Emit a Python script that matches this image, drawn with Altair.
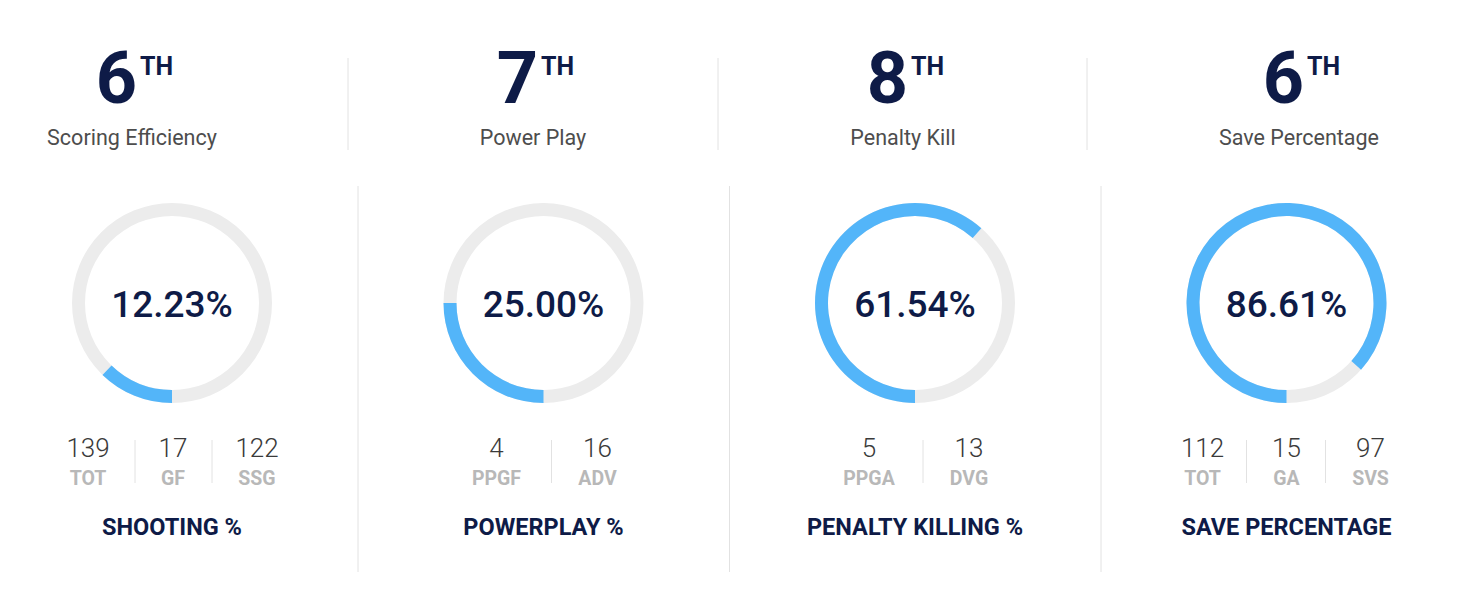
import math
import altair as alt
import pandas as pd

# ---------------- data ----------------
ranks = [6, 7, 8, 6]
rank_suffix = ["TH", "TH", "TH", "TH"]
rank_labels = ["Scoring Efficiency", "Power Play", "Penalty Kill", "Save Percentage"]
pct_values = [12.23, 25.00, 61.54, 86.61]
stat_values = [[139, 17, 122], [4, 16], [5, 13], [112, 15, 97]]
stat_labels = [["TOT", "GF", "SSG"], ["PPGF", "ADV"], ["PPGA", "DVG"], ["TOT", "GA", "SVS"]]
titles = ["SHOOTING %", "POWERPLAY %", "PENALTY KILLING %", "SAVE PERCENTAGE"]

# ---------------- layout (pixels inside the chart) ----------------
W, H = 1466, 594
top_centers = [124, 525, 895, 1291]
top_seps = [340, 710, 1079]
bot_centers = [164 + 371.5 * i for i in range(4)]
stat_offsets = [[-84, 1, 85], [-47, 54], [-46, 54], [-84, 0, 84]]
stat_sep_offsets = [[-37, 40], [8], [8], [-40, 39]]
DONUT_Y = 295

NAVY = "#0e1b47"
BLUE = "#53b5f9"
RING = "#ececec"
SEP = "#e2e2e2"
FONT = "Roboto"

top = pd.DataFrame({
    "x": top_centers,
    "rank": [str(r) for r in ranks],
    "suffix": rank_suffix,
    "label": rank_labels,
})
top["xr"] = top["x"] + 5
top["xs"] = top["x"] + 8

topsep = pd.DataFrame({"x": top_seps, "y1": [50] * 3, "y2": [142] * 3})
botsep = pd.DataFrame({"x": [c + 186 for c in bot_centers[:3]], "y1": [178] * 3, "y2": [564] * 3})

donut = pd.DataFrame({
    "x": bot_centers,
    "pct": pct_values,
    "title": titles,
})
donut["y"] = DONUT_Y
donut["t0"] = math.pi
donut["t1"] = math.pi + 2 * math.pi * donut["pct"] / 100.0
donut["full0"] = 0.0
donut["full1"] = 2 * math.pi
donut["txt"] = donut["pct"].map(lambda v: f"{v:.2f}%")

rows = []
for i, (vals, labs) in enumerate(zip(stat_values, stat_labels)):
    for j, (v, l) in enumerate(zip(vals, labs)):
        rows.append({"x": bot_centers[i] + stat_offsets[i][j], "val": str(v), "lab": l})
stats = pd.DataFrame(rows)

srows = []
for i, offs in enumerate(stat_sep_offsets):
    for o in offs:
        srows.append({"x": bot_centers[i] + o, "y1": 432, "y2": 475})
statsep = pd.DataFrame(srows)

X = lambda f: alt.X(f, type="quantitative", scale=None, axis=None)
Y = lambda f: alt.Y(f, type="quantitative", scale=None, axis=None)

def rules(df):
    return alt.Chart(df).mark_rule(color=SEP, strokeWidth=1).encode(
        x=X("x"), y=Y("y1"), y2="y2"
    )

rank_txt = alt.Chart(top).mark_text(
    font=FONT, fontSize=72, fontWeight="bold", color=NAVY, align="right", baseline="alphabetic"
).encode(x=X("xr"), y=alt.value(95), text="rank:N")

suffix_txt = alt.Chart(top).mark_text(
    font=FONT, fontSize=25, fontWeight="bold", color=NAVY, align="left", baseline="alphabetic"
).encode(x=X("xs"), y=alt.value(67), text="suffix:N")

label_txt = alt.Chart(top).mark_text(
    font=FONT, fontSize=21.5, color="#4d4d4d", align="center", baseline="alphabetic"
).encode(x=X("x"), y=alt.value(137), text="label:N")

ring = alt.Chart(donut).mark_arc(radius=100, radius2=87, color=RING).encode(
    x=X("x"), y=Y("y"),
    theta=alt.Theta("full0:Q", scale=None, stack=None),
    theta2="full1:Q",
)

prog = alt.Chart(donut).mark_arc(radius=100, radius2=87, color=BLUE).encode(
    x=X("x"), y=Y("y"),
    theta=alt.Theta("t0:Q", scale=None, stack=None),
    theta2="t1:Q",
)

pct_txt = alt.Chart(donut).mark_text(
    font=FONT, fontSize=37, fontWeight=500, color=NAVY, align="center", baseline="alphabetic"
).encode(x=X("x"), y=alt.value(309), text="txt:N")

val_txt = alt.Chart(stats).mark_text(
    font=FONT, fontSize=26, fontWeight=300, color="#3a3a3a", align="center", baseline="alphabetic"
).encode(x=X("x"), y=alt.value(449), text="val:N")

lab_txt = alt.Chart(stats).mark_text(
    font=FONT, fontSize=19.5, fontWeight="bold", color="#b8b8b8", align="center", baseline="alphabetic"
).encode(x=X("x"), y=alt.value(477), text="lab:N")

title_txt = alt.Chart(donut).mark_text(
    font=FONT, fontSize=23.5, fontWeight="bold", color=NAVY, align="center", baseline="alphabetic"
).encode(x=X("x"), y=alt.value(527), text="title:N")

chart = alt.layer(
    rules(topsep), rules(botsep), rules(statsep),
    rank_txt, suffix_txt, label_txt,
    ring, prog, pct_txt,
    val_txt, lab_txt, title_txt,
).properties(
    width=W, height=H, padding=0, autosize="none", background="white"
).configure_view(strokeWidth=0)

chart.save("out.html", embed_options={"renderer": "svg", "actions": False})
